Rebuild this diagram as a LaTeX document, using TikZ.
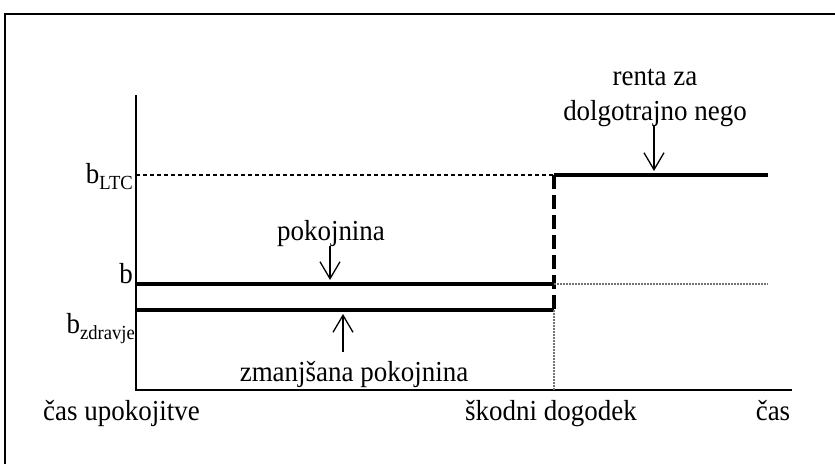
\documentclass[tikz,border=0pt]{standalone}
\usepackage{fontspec}
\setmainfont[FakeStretch=0.93]{Liberation Serif}
\usetikzlibrary{arrows.meta, positioning}
\newcommand\lvlsub[1]{\raisebox{-6.5pt}{\fontsize{20}{20}\selectfont #1}}
\tikzset{%
    framesty/.style={
        line width=2.6pt,
    },
    axissty/.style={
        line width=1.6pt,
    },
    levelsty/.style={
        line width=4.2pt,
    },
    ltcsty/.style={
        line width=2.2pt,
        dash pattern=on 4pt off 3pt,
    },
    jumpsty/.style={
        line width=4.2pt,
        dash pattern=on 14pt off 6pt,
    },
    greysty/.style={
        black!55,
        line width=1.3pt,
        dash pattern=on 2pt off 1pt,
    },
    ptrsty/.style={
        line width=1.3pt,
        -{Straight Barb[length=17pt,width=20pt,line width=1.3pt]},
    },
    labelsty/.style={
        inner sep=0pt,
        font=\fontsize{29}{34}\selectfont,
    },
}

\begin{document}
\begin{tikzpicture}[x=1pt,y=-1pt]
\useasboundingbox (0,0) rectangle (835,464);

% frame
\draw[framesty] (835,14) -- (5,14) -- (5,464);

% axes
\coordinate (o) at (136,390);
\coordinate (ytop) at (136,95);
\coordinate (xend) at (792,390);
\draw[axissty] (ytop) -- (o) -- (xend);

% benefit levels
\coordinate (ltc0) at (136,175);
\coordinate (ltc1) at (554,175);
\coordinate (ltc2) at (768,175);
\coordinate (b0) at (136,284);
\coordinate (b1) at (554,284);
\coordinate (b2) at (768,284);
\coordinate (z0) at (136,310);
\coordinate (z1) at (554,310);
\coordinate (ev) at (554,390);

\draw[ltcsty] (ltc0) -- (ltc1);
\draw[levelsty] (ltc1) -- (ltc2);
\draw[levelsty] (b0) -- (b1);
\draw[levelsty] (z0) -- (z1);
\draw[jumpsty] (ltc1) -- (z1);
\draw[greysty] (b1) -- (b2);
\draw[greysty] (z1) -- (ev);

% level and time labels
\node (bltc) [labelsty,anchor=base east] at (133,183) {b\lvlsub{LTC}};
\node (bb) [labelsty,anchor=base east] at (133,283) {b};
\node (bzd) [labelsty,anchor=base east] at (135,333) {b\lvlsub{zdravje}};
\node (t0) [labelsty,anchor=base west] at (43,420) {čas upokojitve};
\node (tev) [labelsty,anchor=base] at (551,420) {škodni dogodek};
\node (tend) [labelsty,anchor=base] at (773,420) {čas};

% curve labels with pointers
\node (pok) [labelsty,anchor=base] at (331,240) {pokojnina};
\node (zpok) [labelsty,anchor=base] at (354,381) {zmanjšana pokojnina};
\node (renta) [labelsty,anchor=base] at (655,85) {renta za};
\node (nego) [labelsty,below=35pt of renta.base,anchor=base] {dolgotrajno nego};

\coordinate (pokhead) at (330,280);
\coordinate (zptail) at (343,352);
\coordinate (zphead) at (343,314);
\coordinate (rhead) at (654,171);

\draw[ptrsty] (pok.south -| pokhead) -- (pokhead);
\draw[ptrsty] (zptail) -- (zphead);
\draw[ptrsty] (nego.south -| rhead) -- (rhead);

\end{tikzpicture}
\end{document}
